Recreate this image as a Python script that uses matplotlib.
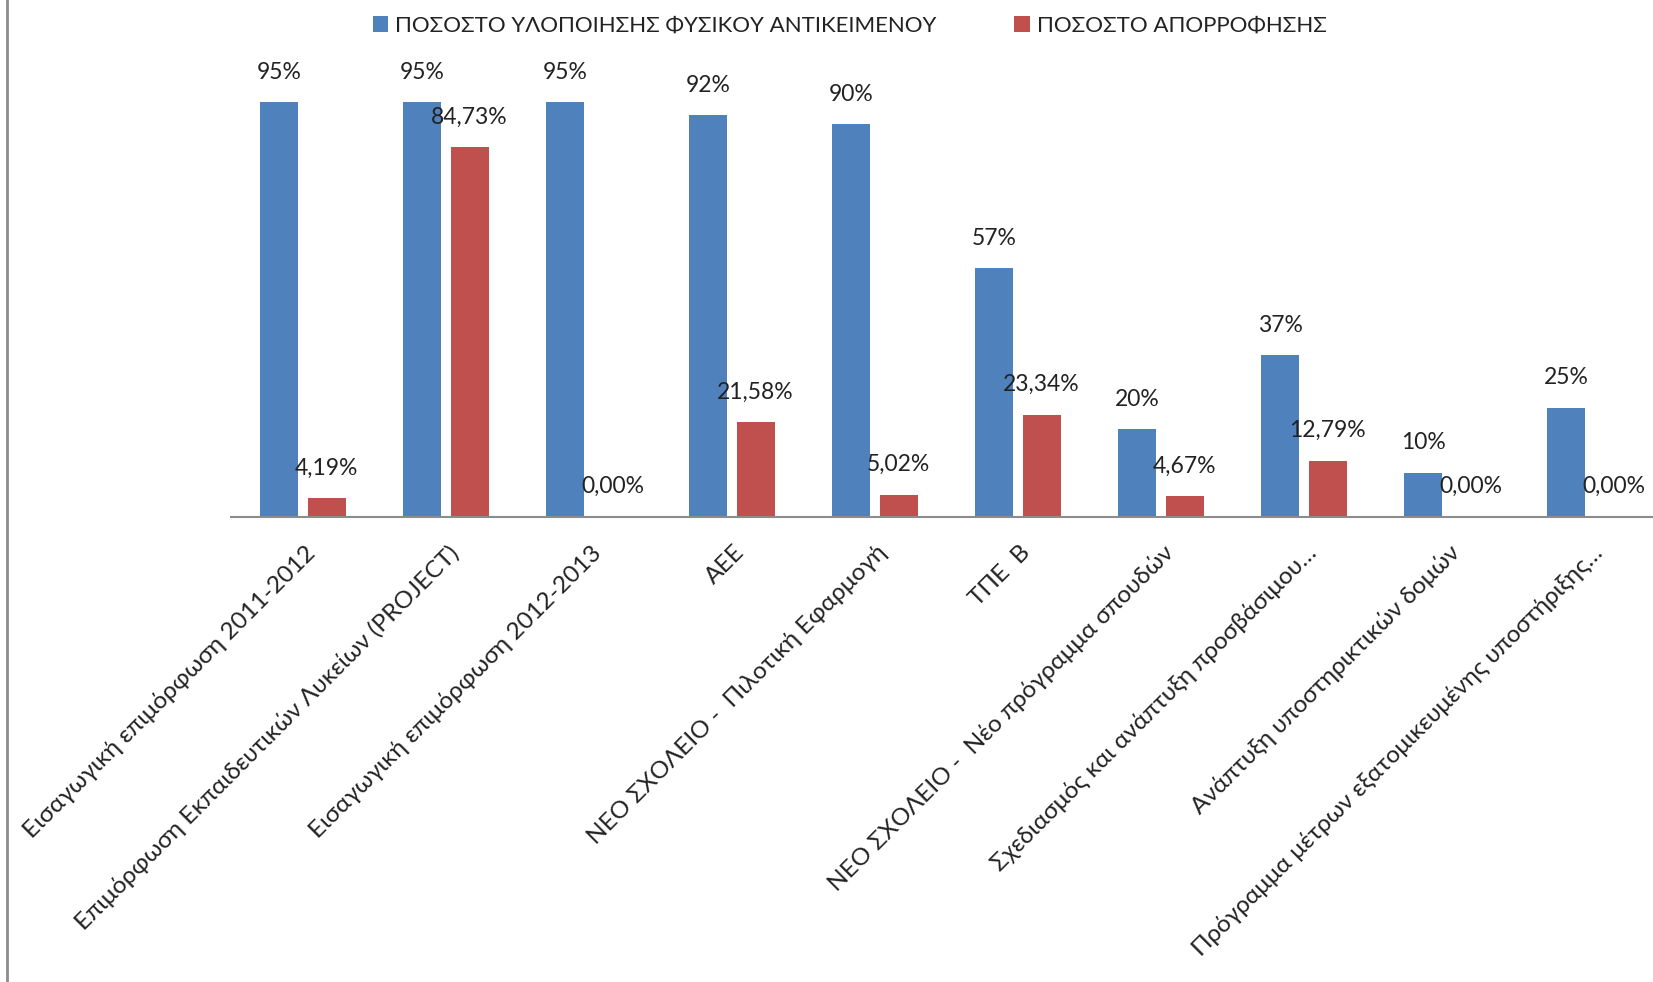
import matplotlib
matplotlib.use("Agg")
import matplotlib.pyplot as plt
import numpy as np

# data
categories = [
    "Εισαγωγική επιμόρφωση 2011-2012",
    "Επιμόρφωση Εκπαιδευτικών Λυκείων (PROJECT)",
    "Εισαγωγική επιμόρφωση 2012-2013",
    "ΑΕΕ",
    "ΝΕΟ ΣΧΟΛΕΙΟ -  Πιλοτική Εφαρμογή",
    "ΤΠΕ  Β",
    "ΝΕΟ ΣΧΟΛΕΙΟ -  Νέο πρόγραμμα σπουδών",
    "Σχεδιασμός και ανάπτυξη προσβάσιμου…",
    "Ανάπτυξη υποστηρικτικών δομών",
    "Πρόγραμμα μέτρων εξατομικευμένης υποστήριξης…",
]
physical = [95, 95, 95, 92, 90, 57, 20, 37, 10, 25]
absorption = [4.19, 84.73, 0.00, 21.58, 5.02, 23.34, 4.67, 12.79, 0.00, 0.00]
series_names = ["ΠΟΣΟΣΤΟ ΥΛΟΠΟΙΗΣΗΣ ΦΥΣΙΚΟΥ ΑΝΤΙΚΕΙΜΕΝΟΥ", "ΠΟΣΟΣΤΟ ΑΠΟΡΡΟΦΗΣΗΣ"]

plt.rcParams['font.family'] = ['Lato', 'DejaVu Sans']

blue = "#4F81BD"
red = "#C0504D"

fig = plt.figure(figsize=(16.53, 9.82), dpi=100)
ax = fig.add_axes([0.140, 0.474, 0.865, 0.444])

x = np.arange(len(categories))
w = 0.266
off = 0.166
b1 = ax.bar(x - off, physical, w, color=blue, label=series_names[0])
b2 = ax.bar(x + off, absorption, w, color=red, label=series_names[1])

for xi, v in zip(x, physical):
    ax.annotate("%d%%" % v, (xi - off, v), xytext=(0, 14), textcoords="offset points",
                ha="center", va="bottom", fontsize=16.5, color="#222222")
for xi, v in zip(x, absorption):
    ax.annotate(("%.2f%%" % v).replace(".", ","), (xi + off, v), xytext=(0, 14),
                textcoords="offset points", ha="center", va="bottom", fontsize=16.5, color="#222222")

ax.set_xlim(-0.5, len(categories) - 0.5)
ax.set_ylim(0, 100)
ax.set_yticks([])
for s in ["top", "right", "left"]:
    ax.spines[s].set_visible(False)
ax.spines["bottom"].set_color("#8C8C8C")
ax.spines["bottom"].set_linewidth(1.5)

ax.set_xticks(x + 0.01)
ax.set_xticklabels(categories, rotation=45, ha="right", va="top",
                   rotation_mode="anchor", fontsize=17.6, color="#222222")
ax.tick_params(axis="x", length=0, pad=18)

leg = fig.legend(handles=[b1, b2], loc="center", bbox_to_anchor=(0.514, 0.974), ncol=2,
                 frameon=False, fontsize=16, handlelength=0.7, handleheight=0.7,
                 handletextpad=0.3, columnspacing=3.5, labelcolor="#222222")

# left border of the chart area
fig.add_artist(plt.Line2D([0.0045, 0.0045], [0, 1], color="#8C8C8C", lw=2,
                          transform=fig.transFigure))

fig.savefig("out.png", dpi=100)
